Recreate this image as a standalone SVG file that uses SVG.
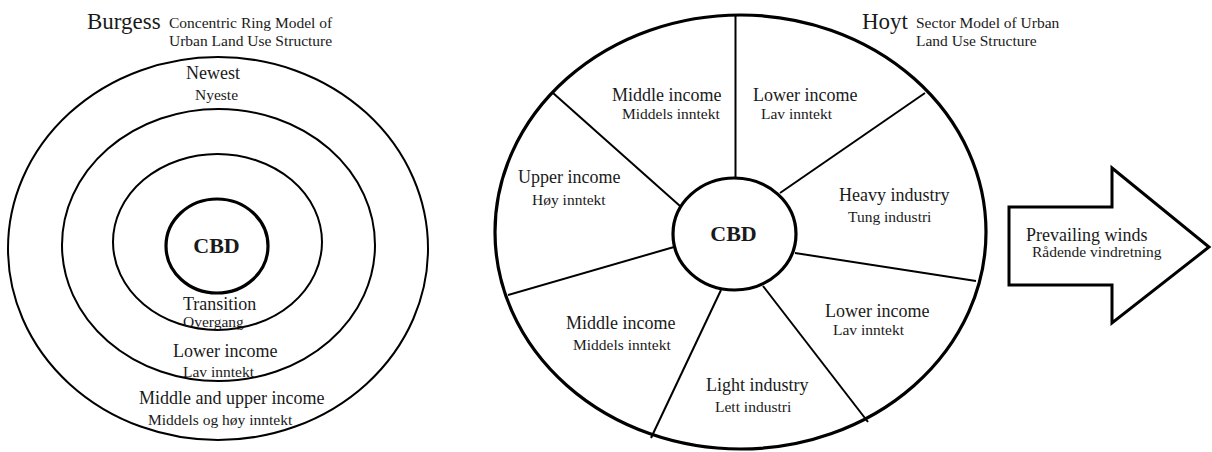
<svg xmlns="http://www.w3.org/2000/svg" width="1212" height="452" viewBox="0 0 1212 452" font-family="'Liberation Serif', 'Times New Roman', Times, 'DejaVu Serif', serif">
<style>
text{font-family:'Liberation Serif','Times New Roman',Times,'DejaVu Serif',serif;fill:#1a1a1a}
.t{font-size:23px}
.st{font-size:15.5px}
.m{font-size:18px}
.s{font-size:15.5px}
.cbd{font-size:22px;font-weight:bold}
.ring{fill:none;stroke:#000;stroke-width:2}
.thick{fill:none;stroke:#000;stroke-width:3.2}
.sec{stroke:#000;stroke-width:2;fill:none}
</style>
<rect width="1212" height="452" fill="#fff"/>
<g id="burgess">
  <text class="t" x="87" y="29">Burgess</text>
  <text class="st" x="169" y="28">Concentric Ring Model of</text>
  <text class="st" x="169" y="46">Urban Land Use Structure</text>
  <ellipse class="ring" cx="218" cy="248.5" rx="210" ry="191.5"/>
  <ellipse class="ring" cx="218.5" cy="245" rx="156.5" ry="136"/>
  <ellipse class="ring" cx="217.5" cy="242" rx="104.5" ry="88"/>
  <g id="b-cbd">
    <ellipse class="thick" cx="217" cy="246" rx="51" ry="47"/>
    <text class="cbd" x="216.5" y="253" text-anchor="middle">CBD</text>
  </g>
  <text class="m" x="186" y="79">Newest</text>
  <text class="s" x="195" y="100">Nyeste</text>
  <text class="m" x="183" y="310">Transition</text>
  <text class="s" x="183" y="327">Overgang</text>
  <text class="m" x="173" y="357">Lower income</text>
  <text class="s" x="183" y="377">Lav inntekt</text>
  <text class="m" x="139" y="404">Middle and upper income</text>
  <text class="s" x="148" y="425">Middels og høy inntekt</text>
</g>
<g id="hoyt">
  <text class="t" x="862" y="29">Hoyt</text>
  <text class="st" x="916" y="28">Sector Model of Urban</text>
  <text class="st" x="916" y="46">Land Use Structure</text>
  <ellipse class="thick" cx="740.5" cy="232" rx="245.5" ry="217"/>
  <g id="connectors">
    <line class="sec" x1="735.5" y1="15" x2="735.5" y2="178"/>
    <line class="sec" x1="780" y1="193" x2="925" y2="93"/>
    <line class="sec" x1="795" y1="253" x2="976" y2="281"/>
    <line class="sec" x1="763" y1="286" x2="868" y2="422"/>
    <line class="sec" x1="721" y1="290" x2="651" y2="438"/>
    <line class="sec" x1="674" y1="247" x2="508" y2="295"/>
    <line class="sec" x1="680" y1="206" x2="553" y2="93"/>
  </g>
  <g id="h-cbd">
    <ellipse class="thick" cx="734.5" cy="234" rx="61.5" ry="56" fill="#fff"/>
    <text class="cbd" x="733.5" y="241" text-anchor="middle">CBD</text>
  </g>
  <text class="m" x="612" y="101">Middle income</text>
  <text class="s" x="622" y="119">Middels inntekt</text>
  <text class="m" x="753" y="101">Lower income</text>
  <text class="s" x="761" y="119">Lav inntekt</text>
  <text class="m" x="518" y="183">Upper income</text>
  <text class="s" x="532" y="205">Høy inntekt</text>
  <text class="m" x="839" y="201">Heavy industry</text>
  <text class="s" x="848" y="222">Tung industri</text>
  <text class="m" x="825" y="317">Lower income</text>
  <text class="s" x="833" y="335">Lav inntekt</text>
  <text class="m" x="566" y="329">Middle income</text>
  <text class="s" x="573" y="350">Middels inntekt</text>
  <text class="m" x="706" y="391">Light industry</text>
  <text class="s" x="715" y="412">Lett industri</text>
</g>
<g id="wind">
  <polygon points="1009,207 1112,207 1112,168 1209,247 1112,323 1112,285 1009,285" fill="#fff" stroke="#000" stroke-width="3" stroke-linejoin="miter"/>
  <text class="m" x="1026" y="241">Prevailing winds</text>
  <text class="s" x="1032" y="257">Rådende vindretning</text>
</g>
</svg>
